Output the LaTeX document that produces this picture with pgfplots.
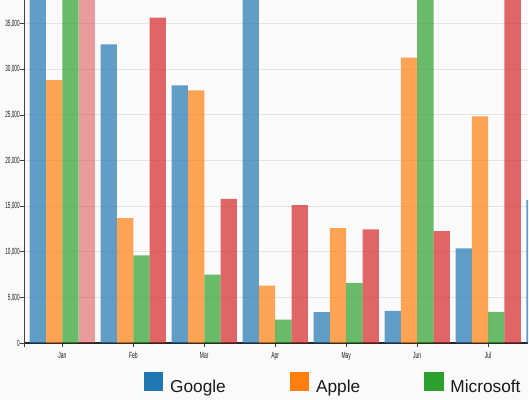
\documentclass[border=0pt]{standalone}
\usepackage{fontspec}
\setmainfont{Liberation Sans}
\usepackage{pgfplots}
\pgfplotsset{compat=1.18}
\definecolor{bg}{RGB}{250,250,250}
\definecolor{cG}{HTML}{1F77B4}
\definecolor{cA}{HTML}{FF7F0E}
\definecolor{cM}{HTML}{2CA02C}
\definecolor{cZ}{HTML}{D62728}
\definecolor{gridc}{RGB}{228,228,228}
\begin{document}
\begin{tikzpicture}[x=1pt,y=1pt]
\fill[bg] (0,0) rectangle (529,400);
\begin{axis}[
  at={(24.3pt,56.7pt)}, anchor=south west,
  scale only axis, width=504.7pt, height=343.3pt,
  xmin=-0.536, xmax=6.563, ymin=0, ymax=37548,
  ybar,
  legend image code/.code={\fill[#1,fill opacity=1,draw=none] (0pt,-4.4pt) rectangle (19.6pt,15pt);},
  axis x line*=bottom, axis y line*=left,
  x axis line style={line width=1.8pt, black!85},
  y axis line style={line width=0.9pt, black!75},
  xtick={0,...,6}, xticklabels={Jan,Feb,Mar,Apr,May,Jun,Jul},
  extra x ticks={-0.536}, extra x tick labels={},
  ytick={0,5000,...,35000},
  scaled y ticks=false,
  /pgf/number format/.cd, 1000 sep={,}, assume math mode=true, /pgfplots/.cd,
  tick align=outside, major tick length=4pt,
  tick style={black!75, line width=0.8pt},
  yticklabel style={font=\fontsize{9}{9}\selectfont, xscale=0.52, text=black!90, inner sep=1pt},
  xticklabel style={font=\fontsize{9}{9}\selectfont, xscale=0.55, text=black!90, inner sep=1pt, yshift=-4pt},
  ymajorgrids, grid style={gridc, line width=1pt},
  legend columns=3,
  legend style={draw=none, fill=none, inner sep=0pt, outer sep=0pt,
    at={(0.2372,-0.1156)}, anchor=west,
    nodes={inner sep=0pt, text=black!90, font=\fontsize{17.3}{17.3}\selectfont},
    /tikz/every odd column/.append style={column sep=6.8pt},
    /tikz/every even column/.append style={column sep=64pt}},
]
\addplot[fill=cG, fill opacity=0.7, draw=none, bar width=0.23, bar shift=-0.345] coordinates {(0,39000) (1,32735) (2,28250) (3,39000) (4,3390) (5,3530) (6,10390) (7,15670)};
\addlegendentry{Google}
\addplot[fill=cA, fill opacity=0.7, draw=none, bar width=0.23, bar shift=-0.115] coordinates {(0,28830) (1,13705) (2,27705) (3,6300) (4,12610) (5,31280) (6,24860)};
\addlegendentry{Apple}
\addplot[fill=cM, fill opacity=0.7, draw=none, bar width=0.23, bar shift=0.115] coordinates {(0,39000) (1,9625) (2,7505) (3,2580) (4,6595) (5,39000) (6,3420)};
\addlegendentry{Microsoft}
\addplot[fill=cZ, fill opacity=0.7, draw=none, bar width=0.23, bar shift=0.345] coordinates {(1,35655) (2,15815) (3,15126) (4,12465) (5,12280) (6,39000)};
\addplot[fill=cZ, fill opacity=0.45, draw=none, bar width=0.23, bar shift=0.345] coordinates {(0,39000)};
\end{axis}
\end{tikzpicture}
\end{document}
